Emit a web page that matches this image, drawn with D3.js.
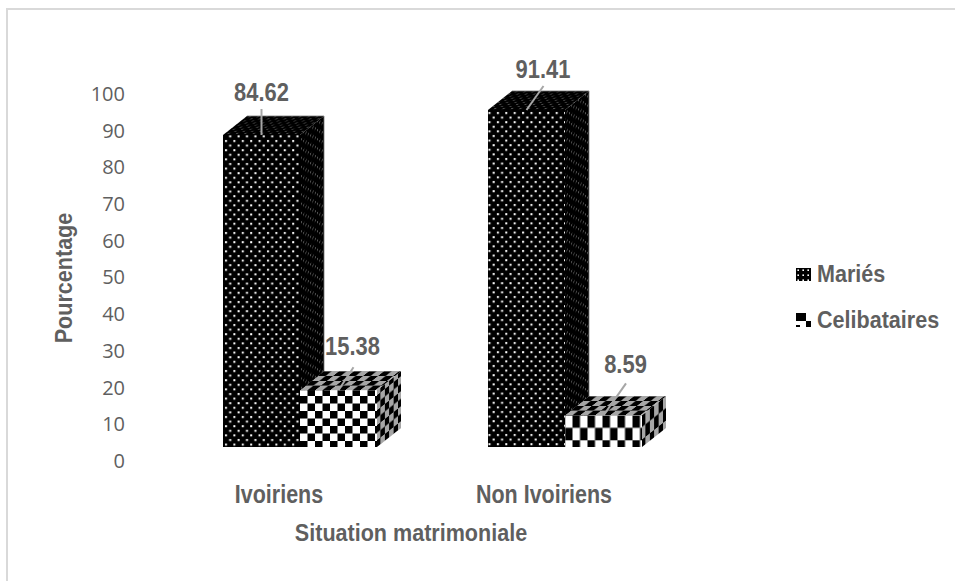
<!DOCTYPE html>
<html><head><meta charset="utf-8">
<script src="https://cdn.jsdelivr.net/npm/d3@7"></script>
<style>
html,body{margin:0;padding:0;background:#fff}
svg{display:block}
.b{font-family:"Liberation Sans",sans-serif;font-weight:700;fill:#5f5f5f}
</style></head><body>
<div id="c"></div>
<script>
const categories = ["Ivoiriens", "Non Ivoiriens"];
const seriesNames = ["Mariés", "Celibataires"];
const maries = [84.62, 91.41];
const celibataires = [15.38, 8.59];
const tickValues = [0,10,20,30,40,50,60,70,80,90,100];
const xTitle = "Situation matrimoniale";
const yTitle = "Pourcentage";

const W=955,H=581;
const svg=d3.select("#c").append("svg").attr("width",W).attr("height",H);
const defs=svg.append("defs");
const depth={x:24,y:-19};

function dots(id,tf){
  const p=defs.append("pattern").attr("id",id).attr("patternUnits","userSpaceOnUse")
    .attr("width",8.4).attr("height",9.2).attr("patternTransform",tf||null);
  p.append("rect").attr("width",8.4).attr("height",9.2).attr("fill","#000");
  [[2,2],[6.2,6.6]].forEach(d=>p.append("rect").attr("x",d[0]-1).attr("y",d[1]-1).attr("width",2).attr("height",2).attr("fill",id.startsWith("dF")?"#fff":"#555"));
}
function checks(id,w,h,tf,light,ox,oy){
  const t=`translate(${ox||0},${oy||0}) `+(tf||"");
  const p=defs.append("pattern").attr("id",id).attr("patternUnits","userSpaceOnUse")
    .attr("width",2*w).attr("height",2*h).attr("patternTransform",t);
  p.append("rect").attr("width",2*w).attr("height",2*h).attr("fill",light);
  p.append("rect").attr("width",w).attr("height",h).attr("fill","#000");
  p.append("rect").attr("x",w).attr("y",h).attr("width",w).attr("height",h).attr("fill","#000");
}
dots("dF0","translate(224,139)");
dots("dF1","translate(487.5,111)");
dots("dTop","matrix(1,0,-1.26,1,0,0) scale(1,.45)");
dots("dSide","matrix(.55,-.79,0,1,0,0)");
const sideSkew=`matrix(1,${depth.y/depth.x},0,1,0,0)`;
const topSkew=`matrix(1,0,${depth.x/depth.y},1,0,0)`;
const chk=[
 {front:["c0F",7.5,7.5,null,"#fff",300,396],top:["c0T",7.5,4.75,topSkew,"#a6a6a6",300,390.3],side:["c0S",4.4,7.5,sideSkew,"#a6a6a6",376,396]},
 {front:["c1F",7.5,12.5,null,"#fff",572.5,415.3],top:["c1T",7.5,4.75,topSkew,"#a6a6a6",565,415.3],side:["c1S",4.4,12.5,sideSkew,"#a6a6a6",641,415.3]}
];
chk.forEach(c=>{[c.front,c.top,c.side].forEach(a=>checks(a[0],a[1],a[2],a[3],a[4],a[5],a[6]));});
const lg=defs.append("pattern").attr("id","lgD").attr("patternUnits","userSpaceOnUse").attr("width",5).attr("height",5).attr("patternTransform","translate(796,268)");
lg.append("rect").attr("width",5).attr("height",5).attr("fill","#000");
lg.append("rect").attr("x",1.4).attr("y",1.4).attr("width",1.6).attr("height",1.6).attr("fill","#fff");

// condensed bold text helper
function label(parent,x,yy,txt,size,sx,rot,anchor){
  return parent.append("text").attr("class","b")
    .attr("transform",`translate(${x},${yy})${rot?` rotate(${rot})`:""} scale(${sx},1)`)
    .attr("text-anchor",anchor||"middle").attr("font-size",size).text(txt);
}

// frame
svg.append("path").attr("d",`M7,${H}V9H${W}`).attr("fill","none").attr("stroke","#d9d9d9").attr("stroke-width",2);

// scales
const x0=d3.scaleBand().domain(categories).range([167.5,697.5]);
const x1=d3.scaleBand().domain(seriesNames).range([x0.bandwidth()/2-77,x0.bandwidth()/2+77]);
const y=d3.scaleLinear().domain([0,100]).range([447,78.3]);
const yAxisScale=d3.scaleLinear().domain([0,100]).range([461,94]);

// y axis
const ax=svg.append("g").attr("transform","translate(125,0)")
  .call(d3.axisLeft(yAxisScale).tickValues(tickValues).tickSize(0).tickPadding(0));
ax.select(".domain").remove();
ax.selectAll("text").attr("font-family","'Open Sans',sans-serif").attr("font-size",20).attr("fill","#5f5f5f");

const rows=[];
categories.forEach((c,i)=>{
  rows.push({cat:c,ser:seriesNames[0],v:maries[i],i,s:0});
  rows.push({cat:c,ser:seriesNames[1],v:celibataires[i],i,s:1});
});
const labelOff=[[0,-26,0,-34],[15,-23,14,-35],[17,-24,16.5,-32],[22.5,-32,22,-42]];
rows.forEach((r,k)=>{
  const xl=x0(r.cat)+x1(r.ser), xr=xl+x1.bandwidth(), yt=y(r.v), yb=y(0);
  const g=svg.append("g");
  const fF=r.s?`url(#${chk[r.i].front[0]})`:`url(#dF${r.i})`;
  const fT=r.s?`url(#${chk[r.i].top[0]})`:"url(#dTop)";
  const fS=r.s?`url(#${chk[r.i].side[0]})`:"url(#dSide)";
  g.append("polygon").attr("fill",fS).attr("points",[[xr,yt],[xr+depth.x,yt+depth.y],[xr+depth.x,yb+depth.y],[xr,yb]].join(" "));
  g.append("polygon").attr("fill",fT).attr("points",[[xl,yt],[xl+depth.x,yt+depth.y],[xr+depth.x,yt+depth.y],[xr,yt]].join(" "));
  g.append("rect").attr("x",xl).attr("y",yt).attr("width",xr-xl).attr("height",yb-yt).attr("fill",fF);
  if(!r.s) g.append("path").attr("fill","none").attr("stroke","#777").attr("stroke-width",.8)
    .attr("d",`M${xl+depth.x},${yt+depth.y}H${xr+depth.x}V${yb+depth.y}`);
});
rows.forEach((r,k)=>{
  const xl=x0(r.cat)+x1(r.ser), xc=xl+x1.bandwidth()/2, yt=y(r.v), o=labelOff[k];
  svg.append("line").attr("x1",xc).attr("y1",yt).attr("x2",xc+o[0]).attr("y2",yt+o[1]).attr("stroke","#a6a6a6").attr("stroke-width",2);
  label(svg,xc+o[2],yt+o[3],d3.format(".2f")(r.v),25.5,.86);
});

// category labels and titles
categories.forEach(c=>label(svg,x0(c)+x0.bandwidth()/2-21,503,c,25,.86));
label(svg,411,541,xTitle,24.5,.88);
label(svg,72,278,yTitle,24.5,.88,-90);

// legend
const lgy=d3.scalePoint().domain(seriesNames).range([274,320]);
seriesNames.forEach((n,i)=>{
  const yy=lgy(n);
  if(i===0){
    svg.append("rect").attr("x",796).attr("y",yy-6).attr("width",15).attr("height",13).attr("fill","url(#lgD)");
  } else {
    svg.append("rect").attr("x",796).attr("y",yy-7).attr("width",10).attr("height",8).attr("fill","#000");
    svg.append("rect").attr("x",806).attr("y",yy+1).attr("width",5).attr("height",6).attr("fill","#000");
    svg.append("rect").attr("x",796).attr("y",yy+5).attr("width",4).attr("height",2).attr("fill","#000");
  }
  label(svg,817,yy+8,n,24.5,.88,0,"start");
});
</script></body></html>
